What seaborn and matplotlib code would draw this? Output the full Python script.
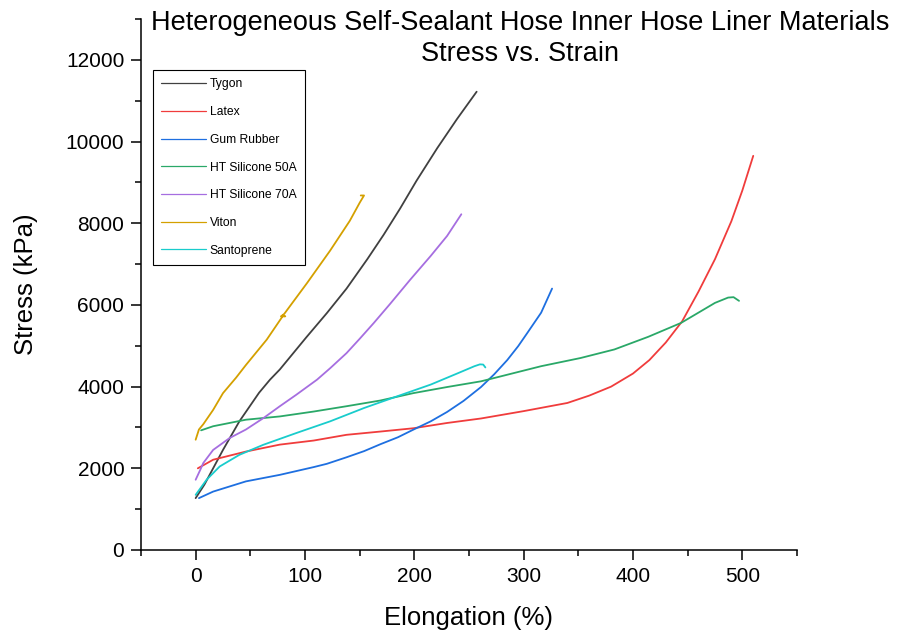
import numpy as np
import pandas as pd
import seaborn as sns
import matplotlib.pyplot as plt

# Elongation (%) / Stress (kPa)
tygon_x = [0, 8, 16, 25, 40, 58, 68, 77, 101, 120, 138, 157, 172, 187, 202, 221, 239, 257]
tygon_y = [1270, 1600, 2000, 2450, 3150, 3850, 4170, 4420, 5200, 5800, 6400, 7120, 7720, 8360, 9040, 9840, 10550, 11220]

latex_x = [2, 16, 46, 77, 108, 138, 169, 199, 230, 261, 300, 320, 340, 360, 380, 400, 415, 430, 445, 460, 475, 490, 500, 510]
latex_y = [2000, 2210, 2410, 2580, 2680, 2820, 2900, 2980, 3110, 3220, 3400, 3500, 3600, 3780, 4000, 4320, 4650, 5080, 5600, 6330, 7120, 8050, 8800, 9650]

gum_x = [3, 16, 46, 77, 108, 120, 138, 154, 169, 185, 199, 215, 230, 245, 261, 273, 285, 295, 303, 316, 326]
gum_y = [1270, 1430, 1680, 1840, 2030, 2110, 2270, 2420, 2590, 2760, 2945, 3150, 3380, 3650, 3990, 4300, 4650, 4990, 5300, 5810, 6400]

sil50_x = [5, 16, 46, 77, 108, 138, 169, 199, 230, 261, 270, 316, 352, 383, 414, 444, 475, 487, 492, 497]
sil50_y = [2930, 3030, 3190, 3270, 3390, 3520, 3660, 3840, 3990, 4130, 4190, 4500, 4700, 4910, 5220, 5560, 6050, 6180, 6190, 6100]

sil70_x = [0, 4, 7, 16, 31, 46, 62, 77, 92, 111, 123, 138, 150, 163, 178, 196, 215, 230, 243]
sil70_y = [1720, 1950, 2130, 2450, 2740, 2950, 3230, 3520, 3800, 4170, 4450, 4820, 5170, 5560, 6030, 6610, 7200, 7690, 8220]

viton_x = [0, 3, 7, 16, 25, 37, 46, 65, 80, 82, 78, 81, 102, 123, 141, 150, 154, 151]
viton_y = [2700, 2950, 3080, 3430, 3840, 4220, 4530, 5150, 5740, 5720, 5720, 5780, 6540, 7330, 8060, 8500, 8680, 8680]

santo_x = [0, 10, 22, 40, 62, 92, 123, 154, 184, 215, 240, 255, 260, 263, 265]
santo_y = [1350, 1720, 2045, 2330, 2577, 2863, 3150, 3476, 3760, 4050, 4330, 4500, 4545, 4540, 4470]

materials = ["Tygon", "Latex", "Gum Rubber", "HT Silicone 50A", "HT Silicone 70A", "Viton", "Santoprene"]
colors = ["#404040", "#f03c3c", "#1e6fe0", "#2aa868", "#a66ee0", "#d4a000", "#19cccc"]

series = [(tygon_x, tygon_y), (latex_x, latex_y), (gum_x, gum_y), (sil50_x, sil50_y),
          (sil70_x, sil70_y), (viton_x, viton_y), (santo_x, santo_y)]

frames = []
for name, (xs, ys) in zip(materials, series):
    frames.append(pd.DataFrame({"Elongation": xs, "Stress": ys, "Material": name}))
df = pd.concat(frames, ignore_index=True)

sns.set_style("ticks", {"axes.edgecolor": "black", "text.color": "black",
                        "xtick.color": "black", "ytick.color": "black",
                        "axes.labelcolor": "black"})
plt.rcParams['font.family'] = ['Liberation Sans', 'DejaVu Sans']

fig = plt.figure(figsize=(8.98, 6.34), dpi=100)
ax = fig.add_axes([0.157, 0.1325, 0.7305, 0.8375])

sns.lineplot(data=df, x="Elongation", y="Stress", hue="Material", units="Material",
             estimator=None, sort=False, palette=dict(zip(materials, colors)),
             linewidth=1.3, ax=ax)

ax.set_xlim(-50, 550)
ax.set_ylim(0, 13000)
ax.set_xticks(range(0, 501, 100))
ax.set_xticks(range(-50, 551, 50), minor=True)
ax.set_yticks(range(0, 12001, 2000))
ax.set_yticks(range(0, 13001, 1000), minor=True)
ax.tick_params(which="major", length=7, width=1.1, labelsize=15, direction="out", pad=5)
ax.tick_params(which="minor", length=4, width=1.1, direction="out")
for s in ["left", "bottom"]:
    ax.spines[s].set_linewidth(1.1)
sns.despine(ax=ax)

ax.set_xlabel("Elongation (%)", fontsize=18.5, labelpad=15)
ax.set_ylabel("Stress (kPa)", fontsize=18.5, labelpad=20)

handles, labels = ax.get_legend_handles_labels()
for h in handles:
    h.set_linewidth(0.9)
leg = ax.legend(handles, labels, loc="upper left", bbox_to_anchor=(0.018, 0.904),
                fontsize=8.7, handlelength=3.7, handletextpad=0.3, labelspacing=1.3,
                borderpad=0.7, borderaxespad=0, frameon=True, fancybox=False, framealpha=1)
leg.get_frame().set_edgecolor("black")
leg.get_frame().set_linewidth(0.8)

fig.text(520 / 898, 1 - 10 / 634, "Heterogeneous Self-Sealant Hose Inner Hose Liner Materials\nStress vs. Strain",
         ha="center", va="top", fontsize=19.5, linespacing=1.25)

fig.savefig("out.png", dpi=100)
